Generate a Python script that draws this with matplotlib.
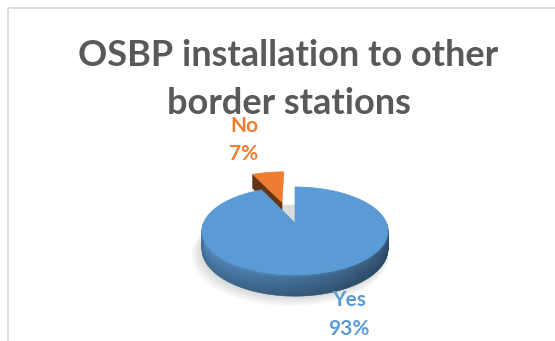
import numpy as np
import matplotlib
matplotlib.use("Agg")
import matplotlib.pyplot as plt
from matplotlib.patches import Polygon
from matplotlib.collections import PolyCollection
from matplotlib.colors import to_rgb

# ---- data -------------------------------------------------------------
title_lines = ["OSBP installation to other", "border stations"]
categories = ["Yes", "No"]
shares = [93, 7]                      # percent
slice_colors = ["#5B9BD5", "#ED7D31"]
explode = [0.0, 0.55]

FONT = "Lato"
W, H = 555, 341

fig = plt.figure(figsize=(W / 100, H / 100), dpi=100)
ax = fig.add_axes([0, 0, 1, 1])
ax.set_xlim(0, W)
ax.set_ylim(H, 0)
ax.axis("off")

# chart-area border (left and top edges)
ax.plot([7.5, 7.5, W + 5], [H + 5, 7.5, 7.5], color="#D9D9D9", lw=1.3,
        solid_capstyle="butt", zorder=1)

# ---- perspective 3-D pie ---------------------------------------------
cx, cy = 295.0, 223.0      # projected centre of the disc
A, B = 91.5, 42.5          # radii of the projected disc
k = 0.18                   # perspective strength
T = 17.5                   # thickness of the disc


def proj(x, y, z=0.0):
    d = 1.0 + k * y
    return cx + A * x / d, cy - B * y / d + T * z / d


def shade(color, f):
    r, g, b = to_rgb(color)
    return (min(r * f, 1), min(g * f, 1), min(b * f, 1))


total = float(sum(shares))
bounds = np.cumsum([0] + list(shares)) / total * 360.0
slices = []
for i, cat in enumerate(categories):
    t1 = 90.0 - bounds[i]
    t2 = 90.0 - bounds[i + 1]
    mid = np.radians((t1 + t2) / 2)
    ox, oy = explode[i] * np.cos(mid), explode[i] * np.sin(mid)
    ox *= 1.3   # exploded slices also drift sideways in this view
    slices.append(dict(cat=cat, t1=t1, t2=t2, ox=ox, oy=oy,
                       color=slice_colors[i], share=shares[i]))

# soft shadow under the disc
th = np.linspace(0, 2 * np.pi, 200)
for j in range(6):
    s = 1.0 + 0.012 * j
    pts = [proj(s * np.cos(t), s * np.sin(t), 1.0) for t in th]
    pts = [(x - 2 - j * 0.6, y + 2 + j * 0.8) for x, y in pts]
    ax.add_patch(Polygon(pts, closed=True, fc="#000000", ec="none",
                         alpha=0.025, zorder=2))

# draw far slices first
order = sorted(range(len(slices)), key=lambda i: -slices[i]["oy"])
z = 3
for i in order:
    s = slices[i]
    ox, oy, col = s["ox"], s["oy"], s["color"]
    t1, t2 = s["t1"], s["t2"]
    arc = np.radians(np.linspace(t1, t2, max(int(abs(t1 - t2) / 1.5), 4)))

    # radial cut faces
    for tdeg, visible in ((t1, np.cos(np.radians(t1)) < -1e-6),
                          (t2, np.cos(np.radians(t2)) > 1e-6)):
        if not visible:
            continue
        t = np.radians(tdeg)
        ex, ey = ox + np.cos(t), oy + np.sin(t)
        face = [proj(ox, oy, 0), proj(ex, ey, 0), proj(ex, ey, 1), proj(ox, oy, 1)]
        ax.add_patch(Polygon(face, closed=True, fc=shade(col, 0.42),
                             ec=shade(col, 0.42), lw=0.5, zorder=z))
    z += 1

    # outer wall (front-facing part)
    quads, fcs = [], []
    nz = 8
    for a0, a1 in zip(arc[:-1], arc[1:]):
        am = 0.5 * (a0 + a1)
        if np.sin(am) >= 0:
            continue
        horiz = 0.90 - 0.17 * (np.cos(am) + 1.0)
        for m in range(nz):
            z0, z1 = m / nz, (m + 1) / nz
            vert = 1.06 if m == 0 else 1.0 - 0.22 * (m / (nz - 1))
            p = [proj(ox + np.cos(a0), oy + np.sin(a0), z0),
                 proj(ox + np.cos(a1), oy + np.sin(a1), z0),
                 proj(ox + np.cos(a1), oy + np.sin(a1), z1),
                 proj(ox + np.cos(a0), oy + np.sin(a0), z1)]
            quads.append(p)
            fcs.append(shade(col, horiz * vert))
    if quads:
        ax.add_collection(PolyCollection(quads, facecolors=fcs,
                                         edgecolors=fcs, linewidths=0.4,
                                         zorder=z))
    z += 1

    # top face
    top = [proj(ox, oy, 0)] + [proj(ox + np.cos(a), oy + np.sin(a), 0) for a in arc]
    ax.add_patch(Polygon(top, closed=True, fc=col, ec=col, lw=0.5, zorder=z))
    z += 1

# ---- data labels -------------------------------------------------------
label_pos = {"Yes": (349, 306, 335), "No": (244, 132, 160)}
for s in slices:
    x, y1, y2 = label_pos[s["cat"]]
    ax.text(x, y1, s["cat"], color=s["color"], fontsize=15, fontweight="bold",
            family=FONT, ha="center", va="baseline", zorder=20)
    ax.text(x, y2, f"{s['share']}%", color=s["color"], fontsize=15,
            fontweight="bold", family=FONT, ha="center", va="baseline", zorder=20)

# ---- title ---------------------------------------------------------------
for line, yb in zip(title_lines, (66, 114)):
    ax.text(288.5, yb, line, color="#595959", fontsize=26, fontweight="bold",
            family=FONT, ha="center", va="baseline", zorder=20)

fig.savefig("out.png", dpi=100, facecolor="white")
